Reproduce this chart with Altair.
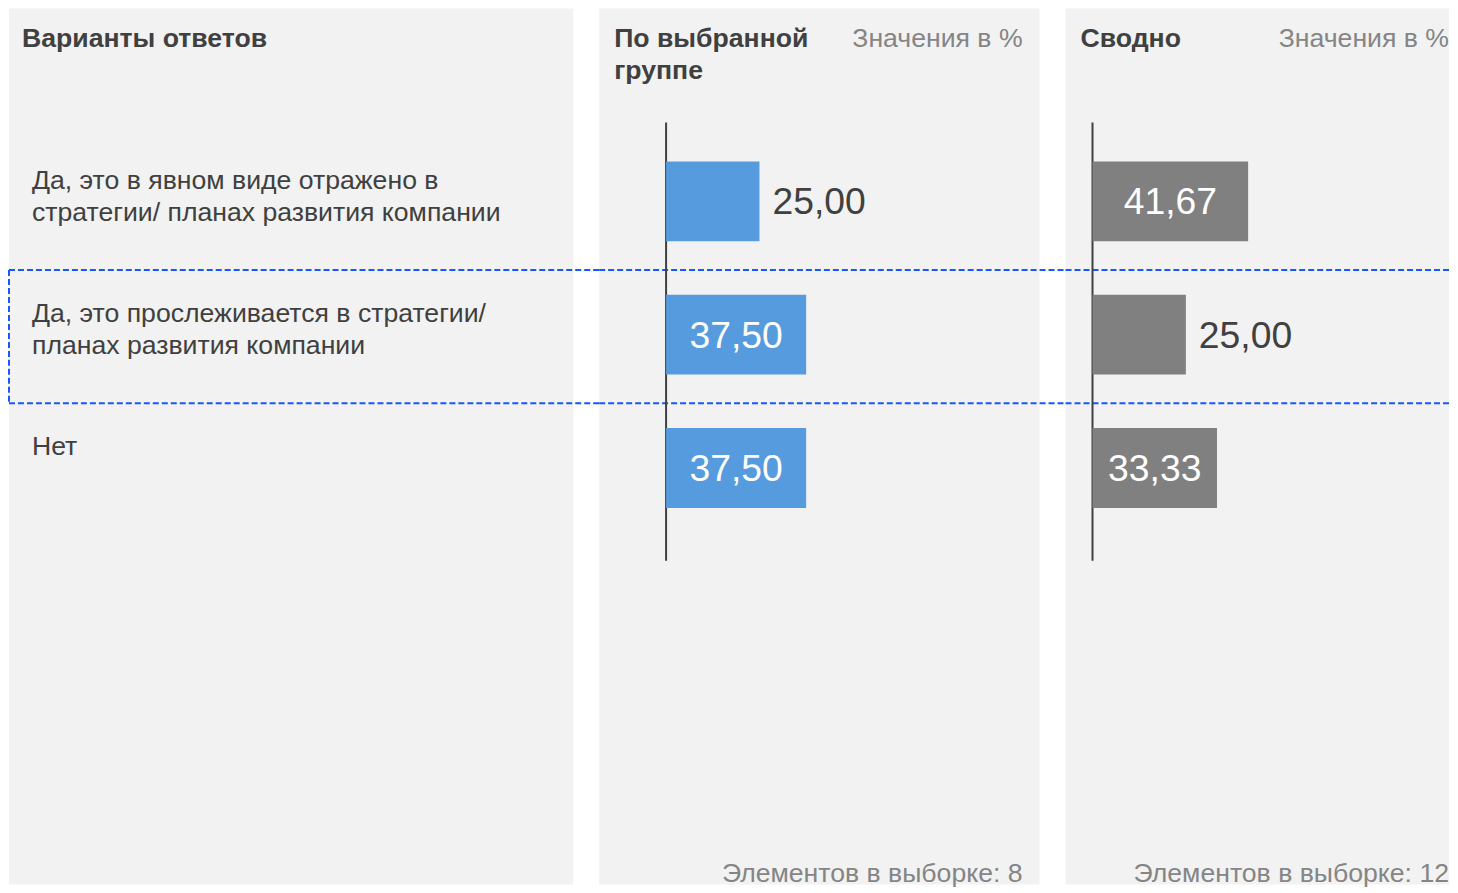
import altair as alt
import pandas as pd

# ---- data ----
answers = [
    "Да, это в явном виде отражено в\nстратегии/ планах развития компании",
    "Да, это прослеживается в стратегии/\nпланах развития компании",
    "Нет",
]
group_values = [25.00, 37.50, 37.50]
total_values = [41.67, 25.00, 33.33]
group_n = 8
total_n = 12
highlight_row = 1

left_title = "Варианты ответов"
group_title = "По выбранной\nгруппе"
total_title = "Сводно"
unit_note = "Значения в %"
sample_note = "Элементов в выборке: {}"

# ---- style ----
FONT = "Liberation Sans"
BG = "#f2f2f2"
DARK = "#404040"
LIGHT = "#858585"
BLUE = "#569bde"
GREY = "#808080"
DASH = "#1a56ff"
FS = 26.67
VFS = 37.33
H = 877
W1, W2, W3 = 565, 441, 384
GAP = 26

df = pd.DataFrame({
    "idx": list(range(len(answers))),
    "answer": answers,
    "group": group_values,
    "total": total_values,
})

ysc = alt.Scale(domain=[0, 2], range=[193, 460], nice=False, zero=False, padding=0)


def fmt(col):
    return f"replace(format(datum.{col}, '.2f'), '.', ',')"


def header(text, x, y, align="left", bold=True, color=DARK):
    return alt.Chart(pd.DataFrame({"t": [text]})).mark_text(
        align=align, baseline="top", font=FONT, fontSize=FS,
        fontWeight="bold" if bold else "normal", color=color,
        lineBreak="\n", lineHeight=32,
    ).encode(x=alt.value(x), y=alt.value(y), text="t:N")


hl = alt.Chart(df).transform_filter(f"datum.idx == {highlight_row}").transform_calculate(
    lo="datum.idx - 0.5", hi="datum.idx + 0.5"
)


def dash_lines(width_px):
    return [
        hl.mark_rule(stroke=DASH, strokeWidth=2, strokeDash=[6, 3], yOffset=2).encode(
            y=alt.Y(f"{k}:Q", scale=ysc, axis=None),
            x=alt.value(0), x2=alt.value(width_px),
        )
        for k in ("lo", "hi")
    ]


# ---- left panel ----
labels = alt.Chart(df).mark_text(
    align="left", baseline="top", font=FONT, fontSize=FS, color=DARK,
    lineBreak="\n", lineHeight=32, dy=-33.5,
).encode(
    x=alt.value(23),
    y=alt.Y("idx:Q", scale=ysc, axis=None),
    text="answer:N",
)
hl_side = hl.mark_rule(stroke=DASH, strokeWidth=2, strokeDash=[6, 3], yOffset=2, y2Offset=2).encode(
    x=alt.value(0),
    y=alt.Y("lo:Q", scale=ysc, axis=None), y2="hi:Q",
)
left = alt.layer(
    *dash_lines(W1 + GAP + 20), hl_side, labels, header(left_title, 13, 17)
).properties(width=W1, height=H)


def bar_panel(col, color, title, n, width, x0, ext):
    xsc = alt.Scale(domain=[0, 100], range=[x0, x0 + 374], nice=False, zero=False, padding=0)
    base = alt.Chart(df)
    axis_line = alt.Chart(pd.DataFrame({"z": [0]})).mark_rule(
        color=DARK, strokeWidth=2
    ).encode(
        x=alt.X("z:Q", scale=xsc, axis=None),
        y=alt.value(114), y2=alt.value(553),
    )
    bars = base.mark_bar(orient="horizontal", size=80, color=color).encode(
        x=alt.X(f"{col}:Q", scale=xsc, axis=None),
        y=alt.Y("idx:Q", scale=ysc, axis=None),
    )
    inside = base.transform_filter(f"datum.{col} >= 30").transform_calculate(
        pos=f"datum.{col} / 2", lab=fmt(col)
    ).mark_text(
        align="center", baseline="middle", font=FONT, fontSize=VFS, color="white", dy=2
    ).encode(
        x=alt.X("pos:Q", scale=xsc, axis=None),
        y=alt.Y("idx:Q", scale=ysc, axis=None),
        text="lab:N",
    )
    outside = base.transform_filter(f"datum.{col} < 30").transform_calculate(
        lab=fmt(col)
    ).mark_text(
        align="left", baseline="middle", font=FONT, fontSize=VFS, color=DARK, dx=13, dy=2
    ).encode(
        x=alt.X(f"{col}:Q", scale=xsc, axis=None),
        y=alt.Y("idx:Q", scale=ysc, axis=None),
        text="lab:N",
    )
    xr = width - 17 if ext else width
    return alt.layer(
        *dash_lines(width + ext), axis_line, bars, inside, outside,
        header(title, 15, 17),
        header(unit_note, xr, 17, align="right", bold=False, color=LIGHT),
        header(sample_note.format(n), xr, 854, align="right", bold=False, color=LIGHT),
    ).properties(width=width, height=H)


mid = bar_panel("group", BLUE, group_title, group_n, W2, 67, GAP + 20)
right = bar_panel("total", GREY, total_title, total_n, W3, 27, 0)

chart = alt.hconcat(left, mid, right, spacing=GAP, bounds="flush").resolve_scale(
    x="independent", y="independent"
).properties(padding=0).configure_view(fill=BG, strokeWidth=0)

chart.save("out.html", embed_options={"renderer": "svg", "actions": False})
